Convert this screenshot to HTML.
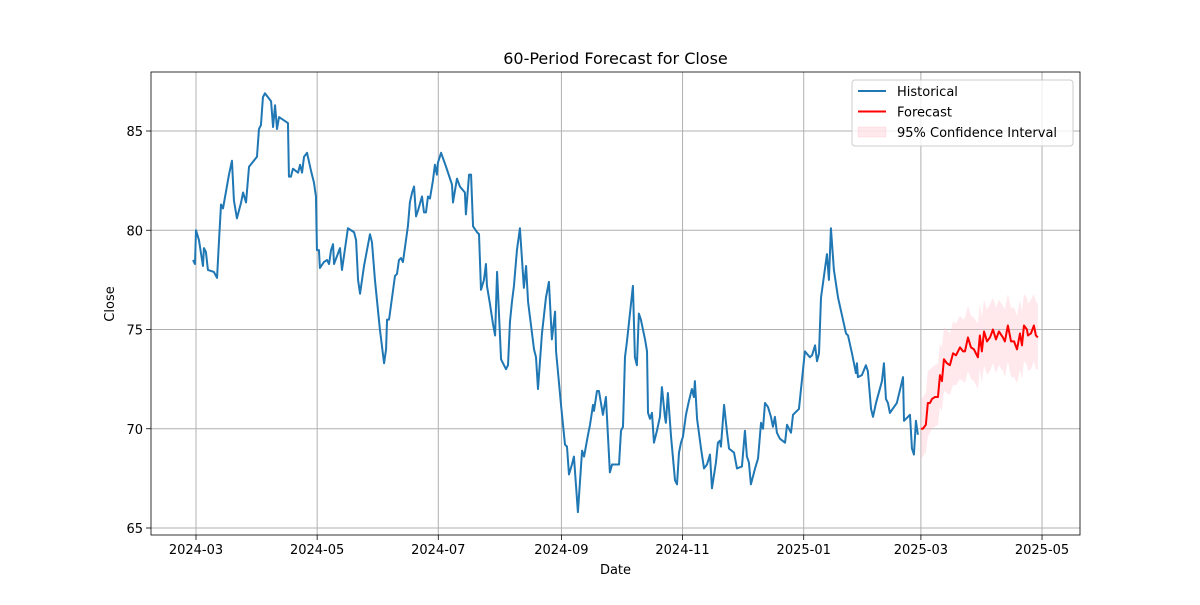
<!DOCTYPE html>
<html><head><meta charset="utf-8"><style>
body{margin:0;background:#fff;font-family:"Liberation Sans",sans-serif}
svg text{font-family:"DejaVu Sans","Liberation Sans",sans-serif}
</style></head><body>
<svg id="chart" width="1200" height="600" xmlns="http://www.w3.org/2000/svg"></svg>
<script>
// days since 2024-03-01
const histDays=[-1.5,-0.5,0,1.5,3.5,4,5,6,9,10.6,11.6,12.6,13.6,16.6,18.1,19.1,20.6,22.7,23.7,25.2,26.7,30.7,31.7,32.7,33.7,34.7,37.8,38.8,39.8,40.8,41.8,46.3,46.8,47.8,48.8,51.4,52.4,53.4,54.4,55.9,57.9,59.4,60.4,60.9,61.9,62.4,64.4,66,67,68,69,69.5,72.5,73.5,76.5,79.6,80.6,81.6,82.6,84.6,87.6,88.6,90.1,92.6,94.7,95.7,96.2,97.2,100.2,101.2,102.2,103.2,104.2,106.7,107.7,108.8,109.8,110.8,111.8,113.8,114.8,115.8,116.8,117.8,119.3,120.3,121.3,121.8,123.4,125.9,128.9,129.4,131.4,132.9,135.4,135.9,137.5,138.5,139.5,141.5,142.5,143.5,145,146,146.5,148,149.5,150.6,151.6,153.6,156.1,157.1,158.1,159.1,160.1,161.6,163.1,165.1,166.2,167.2,168.2,170.2,171.2,172.2,174.2,176.2,177.7,179.2,180.8,181.3,183.8,185.8,186.8,187.8,189.3,190.3,192.3,194.4,195.4,197.4,198.4,199.9,200.4,201.9,202.9,204.9,206.4,208.4,209.5,213,214,215,216,217,220,221,222,223,224,226.1,227.1,227.6,228.6,229.6,230.6,232.1,233.6,234.6,236.1,236.6,237.6,239.2,241.2,242.2,243.2,244.2,245.2,246.7,248.2,249.7,250.7,251.2,252.3,254.3,255.8,257.3,258.8,259.8,261.8,262.8,263.8,264.3,265.9,267.4,268.4,270.9,272.4,274.9,276.4,277.4,278.4,279.4,281.5,283,284.5,285.5,286.5,288,289.5,290.5,291.5,292.5,294,296.6,297.6,299.6,300.6,303.6,306.6,309.1,310.2,311.7,312.7,313.7,314.7,317.7,318.7,319.7,321.2,323.3,327.3,328.3,330.3,332.3,332.8,333.3,335.3,337.3,338.3,339.9,340.9,342.4,345.4,346.4,347.4,348.4,349.4,352.9,356,356.5,359.5,360.5,361.5,362.5,363.5];
const histClose=[78.5,78.3,80.0,79.5,78.2,79.1,78.9,78.0,77.9,77.6,79.5,81.3,81.1,82.8,83.5,81.5,80.6,81.4,81.9,81.4,83.2,83.7,85.1,85.3,86.7,86.9,86.5,85.2,86.3,85.1,85.7,85.4,82.7,82.7,83.1,82.9,83.3,82.9,83.7,83.9,83.0,82.4,81.7,79.0,79.0,78.1,78.4,78.5,78.3,79.0,79.3,78.3,79.1,78.0,80.1,79.9,79.5,77.5,76.8,78.2,79.8,79.4,77.5,75.0,73.3,74.0,75.5,75.5,77.7,77.8,78.5,78.6,78.4,80.2,81.4,81.9,82.2,80.7,81.0,81.7,80.9,80.9,81.7,81.6,82.5,83.3,82.8,83.4,83.9,83.2,82.3,81.4,82.6,82.2,81.9,80.8,82.8,82.8,80.2,79.9,79.8,77.0,77.5,78.3,77.2,76.3,75.3,74.7,77.9,73.5,73.0,73.2,75.4,76.4,77.2,79.0,80.1,77.1,78.2,76.4,75.6,74.0,73.6,72.0,74.8,76.6,77.4,74.5,75.9,73.9,71.2,69.2,69.1,67.7,68.2,68.6,65.8,68.9,68.6,69.7,70.2,71.2,70.9,71.9,71.9,70.7,71.6,67.8,68.2,68.2,69.9,70.1,73.6,74.4,77.2,73.6,73.2,75.8,75.5,74.5,73.9,70.8,70.5,70.8,69.3,69.9,70.6,72.1,70.6,70.3,71.8,69.6,67.4,67.2,68.8,69.3,69.6,70.7,71.4,72.0,71.6,72.4,70.5,69.0,68.0,68.2,68.7,67.0,68.3,69.3,69.4,69.1,71.2,69.8,69.0,68.8,68.0,68.1,69.9,68.6,68.3,67.2,68.0,68.5,70.3,70.0,71.3,71.1,70.6,70.1,70.6,69.8,69.5,69.3,70.2,69.8,70.7,71.0,73.9,73.6,73.7,74.2,73.4,73.8,76.6,78.8,77.5,80.1,78.0,76.6,74.8,74.7,73.8,72.8,73.3,72.6,72.7,73.2,72.9,71.0,70.6,71.3,72.4,73.3,71.5,71.3,70.8,71.3,72.6,70.4,70.7,69.0,68.7,70.4,69.7];
const fcDays=[365,366,367.5,368.5,369.6,370.6,372.1,373.6,374.6,375.6,376.6,378.1,379.6,381.2,382.7,384.7,386.2,387.2,388.7,390.2,391.7,393.7,394.7,395.7,396.8,398.3,399.8,401.3,402.8,404.3,406.3,407.3,408.8,410.4,411.9,413.4,414.9,415.9,416.9,418.4,418.9,420.4,421.9,422.9,423.9];
const fcValues=[70.0,70.0,70.2,71.3,71.3,71.5,71.6,71.6,72.7,72.4,73.5,73.3,73.2,73.8,73.7,74.1,73.9,73.9,74.6,74.1,74.0,73.6,74.7,73.9,74.9,74.4,74.6,75.0,74.5,74.9,74.6,74.4,75.2,74.4,74.4,74.0,74.8,74.2,75.2,75.0,74.7,74.8,75.2,74.7,74.6];
const fcLower=[68.4,68.6,68.8,69.6,69.8,70.0,70.1,70.2,71.1,70.9,71.9,71.8,71.7,72.2,72.2,72.5,72.4,72.3,72.9,72.5,72.4,72.0,73.0,72.3,73.2,72.7,72.9,73.3,72.8,73.2,72.9,72.6,73.4,72.6,72.6,72.3,73.0,72.5,73.4,73.2,72.9,73.0,73.4,73.0,73.0];
const fcUpper=[71.4,71.6,71.8,72.9,73.0,73.1,73.2,73.3,74.3,74.1,75.1,75.0,74.8,75.4,75.3,75.7,75.5,75.6,76.2,75.7,75.6,75.3,76.3,75.6,76.5,76.0,76.3,76.6,76.1,76.5,76.2,76.0,76.8,76.1,76.1,75.7,76.5,75.9,76.8,76.6,76.3,76.5,76.8,76.4,76.3];
const yTicks=[65,70,75,80,85];
const xTickDays=[0,61,122,184,245,306,365,426];
const xTickLabels=["2024-03","2024-05","2024-07","2024-09","2024-11","2025-01","2025-03","2025-05"];

const L=151,R=1080,T=72,B=535;
const xs=d=>196+d*1.986;
const ys=v=>528-(v-65)*19.85;
const svg=document.getElementById('chart');
const NS="http://www.w3.org/2000/svg";
function mk(tag,attrs,parent){const e=document.createElementNS(NS,tag);for(const k in attrs)e.setAttribute(k,attrs[k]);(parent||svg).appendChild(e);return e;}

// grid
xTickDays.forEach((d,i)=>{
 const g=mk('line',{x1:xs(d),x2:xs(d),y1:T,y2:B,stroke:'#b0b0b0','stroke-width':1});
 
 
 mk('line',{x1:xs(d),x2:xs(d),y1:B,y2:B+5,stroke:'#000','stroke-width':0.8});
 const t=mk('text',{x:xs(d),y:B+19,'text-anchor':'middle','font-size':13,fill:'#000'});
 t.textContent=xTickLabels[i];
 
 
});
yTicks.forEach(v=>{
 const g=mk('line',{x1:L,x2:R,y1:ys(v),y2:ys(v),stroke:'#b0b0b0','stroke-width':1});
 
 
 mk('line',{x1:L-5,x2:L,y1:ys(v),y2:ys(v),stroke:'#000','stroke-width':0.8});
 const t=mk('text',{x:L-8,y:ys(v)+5,'text-anchor':'end','font-size':13,fill:'#000'});
 t.textContent=v;
 
 
});

// CI band
let pts=fcDays.map((d,i)=>xs(d)+','+ys(fcUpper[i]));
pts=pts.concat(fcDays.map((d,i)=>xs(d)+','+ys(fcLower[i])).reverse());
const band=mk('polygon',{points:pts.join(' '),fill:'#ffc0cb','fill-opacity':0.35,stroke:'none'});



const hist=mk('polyline',{points:histDays.map((d,i)=>xs(d)+','+ys(histClose[i])).join(' '),fill:'none',stroke:'#1f77b4','stroke-width':2,'stroke-linejoin':'round'});


const fc=mk('polyline',{points:fcDays.map((d,i)=>xs(d)+','+ys(fcValues[i])).join(' '),fill:'none',stroke:'#ff0000','stroke-width':2,'stroke-linejoin':'round'});



const frame=mk('rect',{x:L,y:T,width:R-L,height:B-T,fill:'none',stroke:'#000','stroke-width':0.8});



const title=mk('text',{x:(L+R)/2,y:64,'text-anchor':'middle','font-size':16,fill:'#000'});
title.textContent='60-Period Forecast for Close';


const xl=mk('text',{x:(L+R)/2,y:574,'text-anchor':'middle','font-size':13,fill:'#000'});
xl.textContent='Date';


const yl=mk('text',{x:0,y:0,'text-anchor':'middle','font-size':13,fill:'#000',transform:'translate(114,304) rotate(-90)'});
yl.textContent='Close';



// legend
const lg=mk('g',{});


mk('rect',{x:852,y:80,width:221,height:66,rx:3,fill:'#fff','fill-opacity':0.8,stroke:'#ccc'},lg);
const entries=[['Historical','#1f77b4','line'],['Forecast','#ff0000','line'],['95% Confidence Interval','#ffc0cb','patch']];
entries.forEach((e,i)=>{
 const y=91+i*20.5;
 if(e[2]==='line') mk('line',{x1:858,x2:886,y1:y,y2:y,stroke:e[1],'stroke-width':2},lg);
 else mk('rect',{x:858,y:y-5,width:28,height:10,fill:e[1],'fill-opacity':0.35,stroke:e[1],'stroke-opacity':0.35},lg);
 const t=mk('text',{x:897,y:y+5,'font-size':13,fill:'#000'},lg);
 t.textContent=e[0];
 
 
});
</script>
</body></html>
